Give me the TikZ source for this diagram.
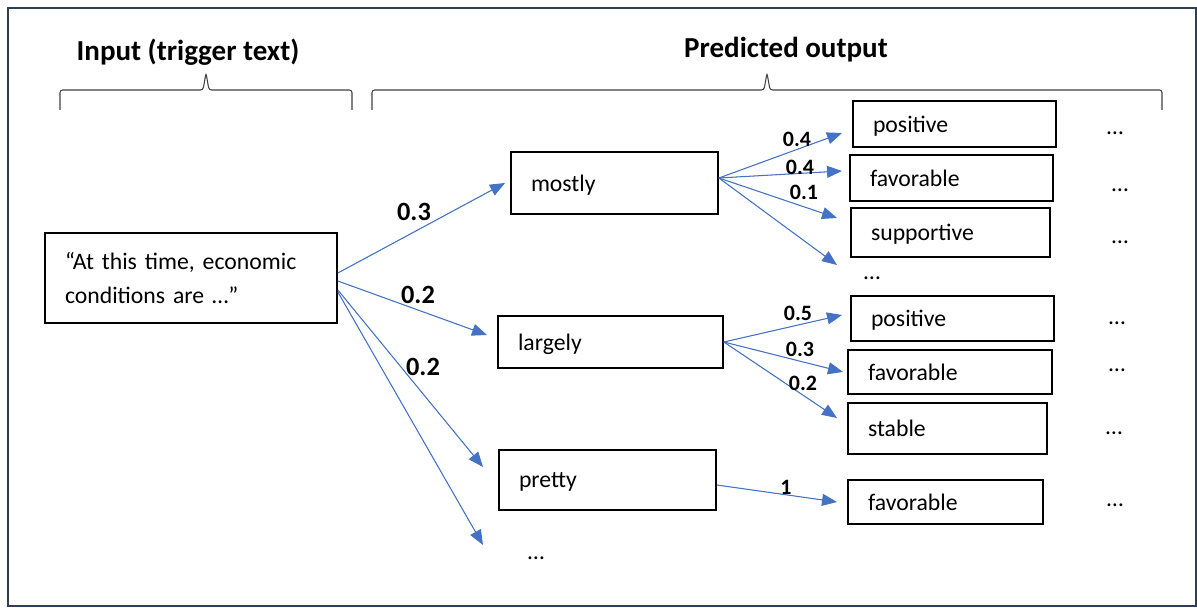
\documentclass[tikz,border=0pt]{standalone}
\usepackage{fontspec}
\setmainfont{Carlito}
\usetikzlibrary{arrows.meta}
\definecolor{arrowblue}{HTML}{4472C4}
\definecolor{framenavy}{HTML}{2F3D57}
\tikzset{%
  >={Triangle[width=2.4mm,length=3mm]},
          base/.style = {rectangle, draw=black, line width=1pt,
                         inner xsep=0.4cm, inner ysep=0pt,
                         align=left, font=\fontsize{13.5}{19}\selectfont},
   src/.style = {base, text width=5.04cm, minimum height=1.8cm},
  word/.style = {base, text width=#1, text depth=0pt},
  dots/.style = {font=\fontsize{13.5}{16}\selectfont, inner sep=0pt},
  title/.style = {font=\bfseries\fontsize{16.5}{20}\selectfont},
  wbig/.style = {font=\bfseries\fontsize{15}{18}\selectfont, inner sep=0pt},
  wsmall/.style = {font=\bfseries\fontsize{12.5}{15}\selectfont, inner sep=0pt},
  conn/.style = {->, draw=arrowblue, fill=arrowblue, line width=0.6pt},
  bracket/.style = {draw=black!75, line width=0.6pt, rounded corners=1.5pt},
}
% curly brace: left end, right end, tip
\newcommand\curlybrace[3]{%
  \draw[bracket] (#1,110) -- (#1,90) -- ({#3-3},90) -- (#3,73)
                 -- ({#3+3},90) -- (#2,90) -- (#2,110);}
\begin{document}
\begin{tikzpicture}[x=0.02cm, y=-0.02cm]
  \useasboundingbox (0,0) rectangle (1197,608);
  \draw[framenavy, line width=1.1pt] (8,8) rectangle (1196,606);

  % headings and braces
  \node (inTitle)  [title] at (188,52) {Input (trigger text)};
  \node (outTitle) [title] at (786,50) {Predicted output};
  \curlybrace{60}{352}{206}
  \curlybrace{372}{1162}{767}

  % first step
  \node (in)      [src]                                    at (191,278)   {“At this time, economic\\conditions are …”};
  \node (mostly)  [word=3.34cm, minimum height=1.24cm]     at (614.5,183) {mostly};
  \node (largely) [word=3.70cm, minimum height=1.04cm]     at (610.5,342) {largely};
  \node (pretty)  [word=3.54cm, minimum height=1.20cm]     at (607.5,480) {pretty};
  \node (dotsA)   [dots]                                   at (536,558)   {…};

  % second step
  \node (posA)  [word=3.26cm, minimum height=0.92cm] at (954.5,124)   {positive};
  \node (favA)  [word=3.26cm, minimum height=0.92cm] at (951.5,178)   {favorable};
  \node (supA)  [word=3.18cm, minimum height=0.98cm] at (950.5,232.5) {supportive};
  \node (dotsB) [dots]                               at (872,278)     {…};
  \node (posB)  [word=3.26cm, minimum height=0.90cm] at (952.5,318.5) {positive};
  \node (favB)  [word=3.28cm, minimum height=0.88cm] at (950,372)     {favorable};
  \node (stabB) [word=3.18cm, minimum height=1.02cm] at (947.5,428.5) {stable};
  \node (favC)  [word=3.10cm, minimum height=0.88cm] at (945.5,502)   {favorable};

  \node (dotsC) [dots] at (1115,133) {…};
  \node (dotsD) [dots] at (1120,190) {…};
  \node (dotsE) [dots] at (1120,242) {…};
  \node (dotsF) [dots] at (1117,323) {…};
  \node (dotsG) [dots] at (1117,370) {…};
  \node (dotsH) [dots] at (1114,433) {…};
  \node (dotsI) [dots] at (1115,505) {…};

  % arrow tips
  \coordinate (tM) at (505,183);
  \coordinate (tL) at (487,335);
  \coordinate (tP) at (483,467);
  \coordinate (tD) at (483,545);
  \coordinate (tMa) at (842,133);
  \coordinate (tMb) at (842,171);
  \coordinate (tMc) at (837,218);
  \coordinate (tMd) at (837,265);
  \coordinate (tLa) at (842,315);
  \coordinate (tLb) at (843,372);
  \coordinate (tLc) at (837,418);
  \coordinate (tPa) at (837,502);

  \draw[conn] ([yshift=0.10cm]in.east)  -- (tM);
  \draw[conn] ([yshift=-0.06cm]in.east) -- (tL);
  \draw[conn] ([yshift=-0.24cm]in.east) -- (tP);
  \draw[conn] ([yshift=-0.28cm]in.east) -- (tD);
  \draw[conn] ([yshift=0.10cm]mostly.east) -- (tMa);
  \draw[conn] ([yshift=0.10cm]mostly.east) -- (tMb);
  \draw[conn] ([yshift=0.10cm]mostly.east) -- (tMc);
  \draw[conn] ([yshift=0.10cm]mostly.east) -- (tMd);
  \draw[conn] (largely.east) -- (tLa);
  \draw[conn] (largely.east) -- (tLb);
  \draw[conn] (largely.east) -- (tLc);
  \draw[conn] ([yshift=-0.10cm]pretty.east) -- (tPa);

  % probabilities
  \node (wM)  [wbig]   at (414,212) {0.3};
  \node (wL)  [wbig]   at (418,295) {0.2};
  \node (wP)  [wbig]   at (423,367) {0.2};
  \node (wMa) [wsmall] at (797,139) {0.4};
  \node (wMb) [wsmall] at (800,167) {0.4};
  \node (wMc) [wsmall] at (804,192) {0.1};
  \node (wLa) [wsmall] at (798,313) {0.5};
  \node (wLb) [wsmall] at (800,349) {0.3};
  \node (wLc) [wsmall] at (803,383) {0.2};
  \node (wPa) [wsmall] at (786,487) {1};
\end{tikzpicture}
\end{document}
